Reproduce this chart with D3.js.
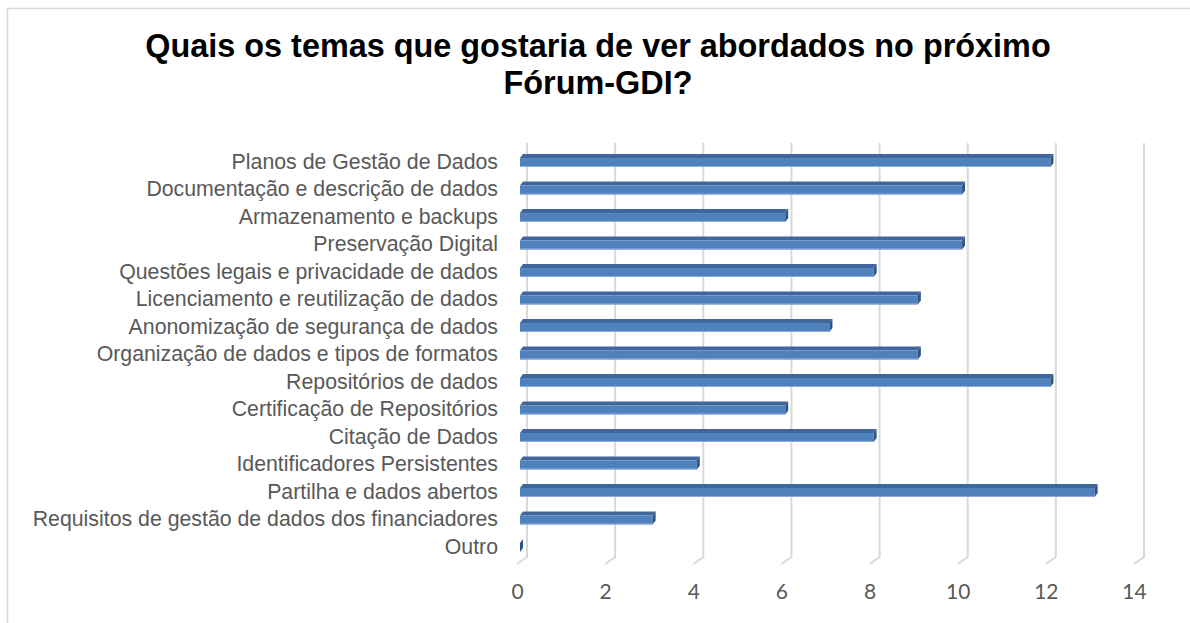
<!DOCTYPE html>
<html>
<head>
<meta charset="utf-8">
<script src="https://cdn.jsdelivr.net/npm/d3@7"></script>
<style>
  html, body { margin: 0; padding: 0; background: #fff; }
  svg { display: block; }
</style>
</head>
<body>
<svg id="chart" width="1190" height="623"></svg>
<script>
// Survey answers: topics respondents would like covered at the next Fórum-GDI
const categories = [
  "Planos de Gestão de Dados",
  "Documentação e descrição de dados",
  "Armazenamento e backups",
  "Preservação Digital",
  "Questões legais e privacidade de dados",
  "Licenciamento e reutilização de dados",
  "Anonomização de segurança de dados",
  "Organização de dados e tipos de formatos",
  "Repositórios de dados",
  "Certificação de Repositórios",
  "Citação de Dados",
  "Identificadores Persistentes",
  "Partilha e dados abertos",
  "Requisitos de gestão de dados dos financiadores",
  "Outro"
];
const counts = [12, 10, 6, 10, 8, 9, 7, 9, 12, 6, 8, 4, 13, 3, 0];
const tickValues = [0, 2, 4, 6, 8, 10, 12, 14];
const titleLines = ["Quais os temas que gostaria de ver abordados no próximo", "Fórum-GDI?"];

const svg = d3.select("#chart");

// chart area frame
svg.append("rect")
  .attr("x", 7.5).attr("y", 8.5)
  .attr("width", 1200).attr("height", 700)
  .attr("fill", "#fff")
  .attr("stroke", "#d9d9d9")
  .attr("stroke-width", 1.5);

// title
svg.append("text")
  .attr("x", 598).attr("y", 57)
  .attr("text-anchor", "middle")
  .attr("font-family", "Liberation Sans, Arial, sans-serif")
  .attr("font-weight", "bold")
  .attr("font-size", 32.4)
  .attr("fill", "#000")
  .selectAll("tspan")
  .data(titleLines)
  .join("tspan")
  .attr("x", 598)
  .attr("dy", (d, i) => i === 0 ? 0 : 37)
  .text(d => d);

// 3D depth offset of the pseudo-perspective (back wall vs. front plane)
const wallDx = 10, wallDy = 7;
const barDepthX = 3, barDepthY = 4;

const xBack = d3.scaleLinear().domain([0, 14]).range([527, 1144]);
const xFront = d3.scaleLinear().domain([0, 14]).range([xBack(0) - wallDx, xBack(14) - wallDx]);
const xBar = d3.scaleLinear().domain([0, 14]).range([520, 520 + (xBack(14) - xBack(0)) * 1.003]);

const y = d3.scaleBand()
  .domain(categories)
  .range([139.5, 566.5])
  .padding(0.53);

const gridTop = 143, gridBottom = 557;

// back-wall gridlines with a short floor segment
svg.append("g")
  .selectAll("path")
  .data(tickValues)
  .join("path")
  .attr("d", v => `M${xBack(v)},${gridTop}V${gridBottom}L${xBack(v) - wallDx},${gridBottom + wallDy}`)
  .attr("fill", "none")
  .attr("stroke", "#d9d9d9")
  .attr("stroke-width", 2);

// value axis labels
const axis = svg.append("g")
  .attr("transform", `translate(0,${gridBottom + wallDy + 20})`)
  .call(d3.axisBottom(xFront).tickValues(tickValues).tickSize(0).tickPadding(0).tickFormat(d3.format("d")));
axis.select(".domain").remove();
axis.selectAll("text")
  .attr("font-family", "Lato, Open Sans, sans-serif")
  .attr("font-size", 21)
  .attr("fill", "#595959");

// category labels
svg.append("g")
  .selectAll("text")
  .data(categories)
  .join("text")
  .attr("x", 498)
  .attr("y", d => y(d) + y.bandwidth() / 2 + 1)
  .attr("dy", "0.35em")
  .attr("text-anchor", "end")
  .attr("font-family", "Liberation Sans, Arial, sans-serif")
  .attr("font-size", 21.3)
  .attr("fill", "#595959")
  .text(d => d);

// bars drawn as three faces: top, front, end
const bars = svg.append("g")
  .selectAll("g")
  .data(categories.map((c, i) => ({ c, v: counts[i] })))
  .join("g");

const faceTop = d => y(d.c);
const h = () => y.bandwidth();

bars.append("path")
  .attr("d", d => {
    const x0 = xBar(0), x1 = xBar(d.v), t = faceTop(d);
    return `M${x0},${t + barDepthY}L${x0 + barDepthX},${t}L${x1 + barDepthX},${t}L${x1},${t + barDepthY}Z`;
  })
  .attr("fill", "#3f679b");

bars.append("rect")
  .attr("x", xBar(0))
  .attr("y", d => faceTop(d) + barDepthY)
  .attr("width", d => xBar(d.v) - xBar(0))
  .attr("height", () => h() - barDepthY)
  .attr("fill", "#4f81bd");

bars.append("rect")
  .attr("x", xBar(0))
  .attr("y", d => faceTop(d) + h() - 1)
  .attr("width", d => xBar(d.v) - xBar(0))
  .attr("height", 1)
  .attr("fill", "#8eaedb");

bars.append("path")
  .attr("d", d => {
    const x1 = xBar(d.v), t = faceTop(d), b = t + h();
    return `M${x1},${t + barDepthY}L${x1 + barDepthX},${t}L${x1 + barDepthX},${b - barDepthY}L${x1},${b}Z`;
  })
  .attr("fill", "#2f5585");
</script>
</body>
</html>
